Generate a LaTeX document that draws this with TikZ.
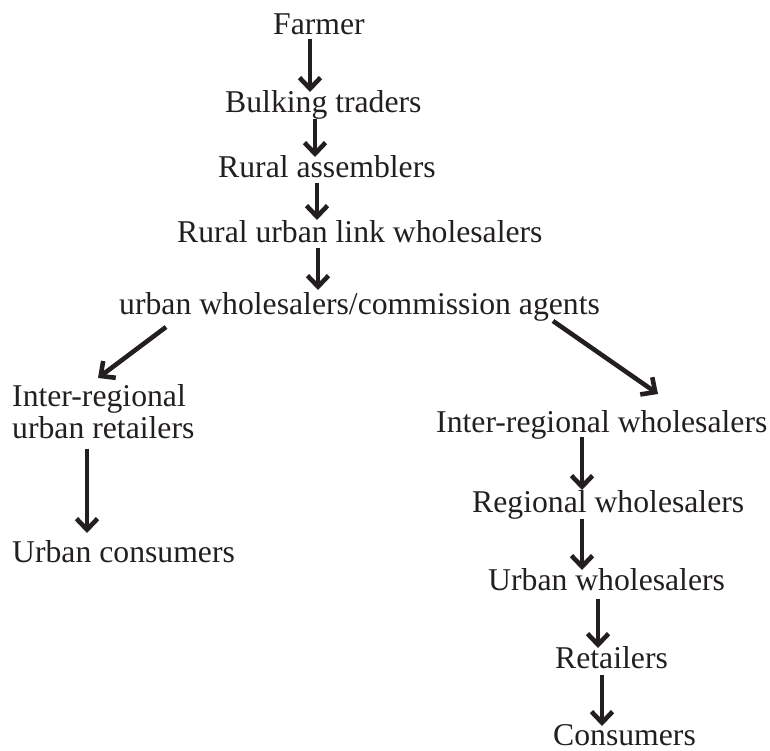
\documentclass[tikz,border=0pt]{standalone}
\usepackage{fontspec}
\setmainfont{Liberation Serif}
\usetikzlibrary{arrows.meta}
\definecolor{ink}{RGB}{35,31,32}
\begin{document}
\begin{tikzpicture}[x=1pt,y=-1pt,
  lbl/.style={anchor=base west,inner sep=0pt,text=ink,
    font=\fontsize{31.7}{32}\selectfont},
  flow/.style={draw=ink,line width=4.6pt,
    -{Straight Barb[length=11pt,width=21pt,line join=miter,line cap=butt]}}]
\useasboundingbox (0,0) rectangle (770,751);

% main chain
\node[lbl] (farmer) at (273,35)  {Farmer};
\node[lbl] (bulk)   at (225,113) {Bulking traders};
\node[lbl] (rural)  at (218,178) {Rural assemblers};
\node[lbl] (link)   at (177,242) {Rural urban link wholesalers};
\node[lbl] (urban)  at (119,314) {urban wholesalers/commission agents};

% left branch
\node[lbl,anchor=north west,align=left] (interreg) at (12,384)
  {Inter-regional\\urban retailers};
\node[lbl] (ucons) at (12,562) {Urban consumers};

% right branch
\node[lbl] (iw)   at (436,432) {Inter-regional wholesalers};
\node[lbl] (rw)   at (472,512) {Regional wholesalers};
\node[lbl] (uw)   at (488,590) {Urban wholesalers};
\node[lbl] (ret)  at (555,668) {Retailers};
\node[lbl] (cons) at (553,745) {Consumers};

% connectors
\draw[flow] ([xshift=37pt,yshift=-4pt]farmer.base west) -- ([xshift=85pt,yshift=21pt]bulk.base west);
\draw[flow] ([xshift=90pt,yshift=-6pt]bulk.base west) -- ([xshift=97pt,yshift=21pt]rural.base west);
\draw[flow] ([xshift=99pt,yshift=-5pt]rural.base west) -- ([xshift=140pt,yshift=22pt]link.base west);
\draw[flow] ([xshift=141pt,yshift=-6pt]link.base west) -- ([xshift=199pt,yshift=24pt]urban.base west);

\draw[flow] ([xshift=47pt,yshift=-13pt]urban.base west) -- ([xshift=86pt,yshift=6pt]interreg.north west);
\draw[flow] ([xshift=75pt,yshift=-10pt]interreg.south west) -- ([xshift=75pt,yshift=29pt]ucons.base west);

\draw[flow] ([xshift=434pt,yshift=-7pt]urban.base west) -- ([xshift=222pt,yshift=38pt]iw.base west);
\draw[flow] ([xshift=146pt,yshift=-5pt]iw.base west) -- ([xshift=110pt,yshift=22pt]rw.base west);
\draw[flow] ([xshift=110pt,yshift=-7pt]rw.base west) -- ([xshift=94pt,yshift=20pt]uw.base west);
\draw[flow] ([xshift=110pt,yshift=-9pt]uw.base west) -- ([xshift=43pt,yshift=20pt]ret.base west);
\draw[flow] ([xshift=47pt,yshift=-7pt]ret.base west) -- ([xshift=49pt,yshift=19pt]cons.base west);
\end{tikzpicture}
\end{document}
